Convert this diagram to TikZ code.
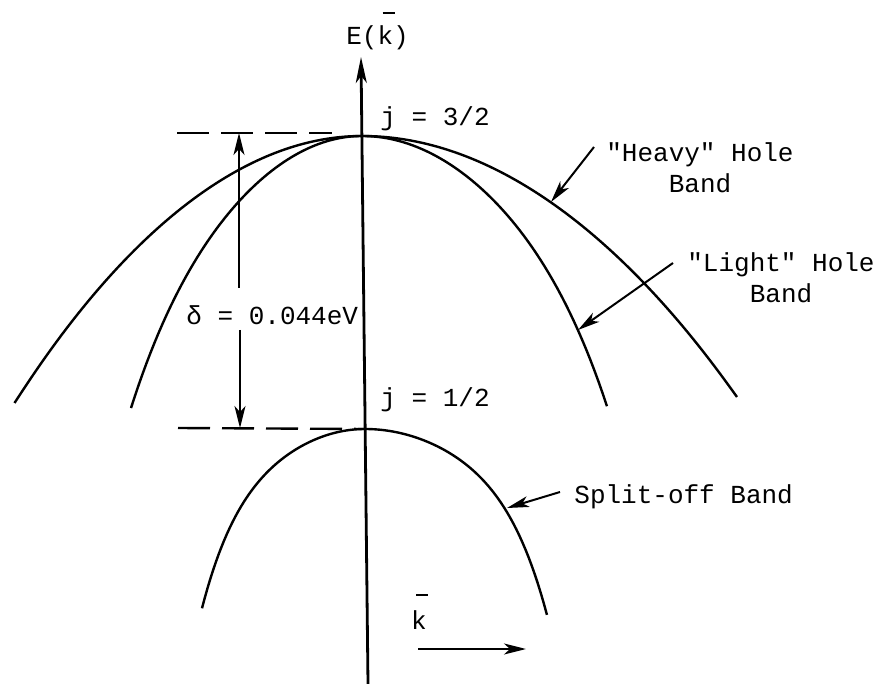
\documentclass[tikz,border=0pt]{standalone}
\usepackage{fontspec}
\setmainfont{Liberation Mono}[Ligatures=TeXOff]
\usetikzlibrary{arrows.meta}
\newcommand{\barredk}[1]{\rlap{\hspace{0.2em}\raisebox{#1}{\rule{0.46em}{1pt}}}k}
\tikzset{
  band/.style={line width=1.2pt},
  lbl/.style={font=\fontsize{13}{15.5}\selectfont, inner sep=0pt},
  ptr/.style={line width=1pt, -{Stealth[length=11pt,width=5.5pt,inset=3pt]}},
  guide/.style={line width=1.2pt, dash pattern=on 16pt off 6pt},
  axisline/.style={line width=1.4pt, -{Stealth[length=13pt,width=5.5pt,inset=3.5pt]}}
}
\begin{document}
\begin{tikzpicture}[x=0.5pt,y=-0.5pt]
\useasboundingbox (0,0) rectangle (884,684);
% axis
\coordinate (axb) at (368,684);
\coordinate (axt) at (361,57);
\draw[axisline] (axb) -- (axt);
% band tops
\coordinate (p1) at (362,136);
\coordinate (p2) at (365,429);
\coordinate (hl) at (14.5,403);
\coordinate (hr) at (737,397);
% heavy hole band
\draw[band] (hl) parabola bend (p1) (hr);
% light hole band
\draw[band] plot[domain=-2.31:0, samples=60] ({362+100*\x}, {136+42.5*\x*\x+0.298*\x*\x*\x*\x*\x*\x})
  -- plot[domain=0:2.45, samples=60] ({362+100*\x}, {136+36.46*\x*\x+0.238*\x*\x*\x*\x*\x*\x});
% split-off band
\draw[band] plot[domain=-1.63:0, samples=60] ({365+100*\x}, {429+41.85*\x*\x+3.63*\x*\x*\x*\x*\x*\x})
  -- plot[domain=0:1.82, samples=60] ({365+100*\x}, {429+32.5*\x*\x+2.157*\x*\x*\x*\x*\x*\x});
% dashed guides
\coordinate (g1a) at (177,133);
\coordinate (g1b) at (332,133);
\coordinate (g2a) at (178,428);
\draw[guide] (g1a) -- (g1b);
\draw[guide] (g2a) -- (p2);
% labels
\node[lbl, anchor=base] (E) at (377.5,45) {E(\barredk{15.5pt})};
\node[lbl, anchor=base west] (j32) at (380,126) {j = 3/2};
\node[lbl, anchor=base west] (j12) at (380,407) {j = 1/2};
\node[lbl, anchor=base west] (delta) at (186,325) {δ = 0.044eV};
\node[lbl, anchor=north, align=center] (heavy) at (700,142) {"Heavy" Hole\\Band};
\node[lbl, anchor=north, align=center] (light) at (781,252) {"Light" Hole\\Band};
\node[lbl, anchor=base west] (split) at (574,503) {Split-off Band};
\node[lbl, anchor=base] (kvec) at (419,629) {\barredk{16.5pt}};
% delta double arrow
\coordinate (dtop) at (239,133);
\coordinate (dbot) at (240,428);
\coordinate (d1) at (239,288);
\coordinate (d2) at (240,330);
\draw[ptr] (d1) -- (dtop);
\draw[ptr] (d2) -- (dbot);
% pointer arrows
\coordinate (ha) at (594,147);
\coordinate (hb) at (551,202);
\draw[ptr] (ha) -- (hb);
\coordinate (la) at (673,263);
\coordinate (lb) at (578,330);
\draw[ptr] (la) -- (lb);
\coordinate (sa) at (560,492);
\coordinate (sb) at (507,508);
\draw[ptr] (sa) -- (sb);
% k arrow
\coordinate (ka) at (418,649);
\coordinate (kb) at (526,649);
\draw[ptr] (ka) -- (kb);
\end{tikzpicture}
\end{document}
